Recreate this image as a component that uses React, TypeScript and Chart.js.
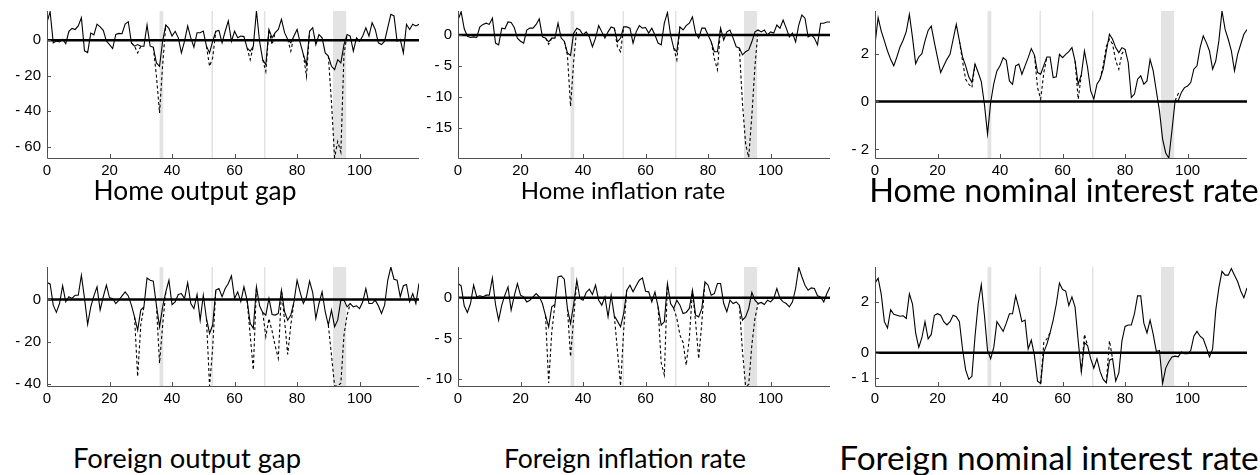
import React, { useEffect, useRef } from "react";
import { Chart, registerables } from "chart.js";

Chart.register(...registerables);

// ---------- shared axis data ----------
const X_TICKS = [0, 20, 40, 60, 80, 100];
const BANDS: [number, number][] = [
  [36, 37.2],
  [52.6, 53.1],
  [69.4, 69.9],
  [91.5, 95.7],
];

// ---------- Home output gap ----------
const homeGap = [
  10, 16, -1.5, -0.5, -1, 0.5, -2, 5, 6.6, 6,
  8, 12.7, -6, -7, 4, 3, 9, 7.5, 5.5, -0.5,
  -2.5, -4.7, 3.2, 3.8, 3.6, 9, 10.4, -1.5, -3.4, -2.5,
  -3.4, -3.4, 8.5, -3.4, -4, -12.8, -14.7, -0.5, 8.5, 6.6,
  2.3, 5, 1.3, -7.2, -0.6, 8, 1.3, -4, 4.2, 4.2,
  5.1, -3.4, -7.2, -0.6, 5, 5.5, -1.5, 5, 10.8, -0.6,
  5, 1.3, 2.3, 2, -4.3, -6.2, -3.4, 16.4, -0.6, -11,
  -13.8, 6, 1.3, 4.2, 6, 11.7, 4.2, 0.4, -1.5, 2.3,
  6, -1.5, -8, -13.8, 5, 7, -2.5, 3.2, 1.3, -7.2,
  -9, -14.7, -16.6, -11, -12.8, -2.5, 3.2, 2.3, -6.2, 1.3,
  -0.6, 2.3, 7, 2.3, 9.8, 6, -1.5, -2.5, -0.6, 7,
  14.5, 13.6, -0.6, 0.4, -7.2, 8.9, 6, 8.9, 8, 8.9,
];
const homeGapAlt: [number, number[]][] = [
  [27, [-1.5, -3.4, -7.2, -3.4]],
  [34, [-4, -20, -41, -13.8, 8.5]],
  [51, [-3.4, -14.7, -10, 5]],
  [64, [-4.3, -11, -3.4]],
  [69, [-11, -17.6, 6, -2.5, 4.2]],
  [77, [0.4, -6.2, 2.3]],
  [82, [-8, -20.4, 5]],
  [90, [-9, -35, -66, -57, -63, -8, 3.2]],
];
const homeGapTicks = [-60, -40, -20, 0];

// ---------- Home inflation rate ----------
const homeInfl = [
  2.4, 3.75, 1.0, -0.2, -0.4, -0.3, -0.4, 1.3, 1.7, 1.9,
  1.7, 2.7, -1.3, -1.6, 1.1, 1.0, 2.1, 2.0, 1.2, -0.5,
  -1.0, -1.3, 0.8, 1.1, 1.1, 1.7, 2.6, -0.3, -0.5, -1.1,
  -0.5, -0.5, 1.9, -0.5, -1.0, -2.9, -3.3, 0.3, 1.1, 0.8,
  0, 0.5, -0.3, -1.9, -0.5, 1.5, 0.5, -0.5, 0.5, 1.3,
  1.1, -1.1, -0.5, 1.3, 1.3, 1.1, -1.3, 0.5, 1.5, 1.1,
  1.2, 0.3, 1.1, 0, -1.3, -1.6, 1.9, 3.6, 0, -2.1,
  -2.7, 1.3, 0.8, 1.5, 1.9, 2.9, 0.3, -0.5, 1.1, 1.1,
  0, -1.1, -2.7, -2.7, 1.1, -0.8, 0.5, 0.8, -0.5, -1.9,
  -2.1, -3.2, -2.7, -2.4, -1.1, 0.5, 0.8, 0.5, 0.8, 0,
  0.5, 0.3, 1.6, 1.1, 2.4, 1.1, -0.3, 0.3, -1.1, 1.6,
  3.2, 2.7, -0.3, 0, -0.5, -1.6, 1.9, 1.9, 2.1, 2.1,
];
const homeInflAlt: [number, number[]][] = [
  [28, [-0.5, -1.5, -0.5]],
  [34, [-1.0, -3.2, -11.5, -4.3, 1.1]],
  [50, [1.1, -1.9, -2.7, 1.3]],
  [69, [-2.1, -4.0, 1.3]],
  [81, [-1.1, -3.8, -5.6, 1.1]],
  [90, [-2.1, -11, -17.5, -19.7, -13, -5, 0.8]],
];
const homeInflTicks = [-15, -10, -5, 0];

// ---------- Home nominal interest rate ----------
const homeRate = [
  2.39, 3.5, 2.94, 2.53, 2.11, 1.76, 1.49, 1.86, 2.28, 2.56,
  2.92, 3.64, 2.67, 1.58, 1.86, 2.0, 2.53, 2.97, 3.15, 2.46,
  1.83, 1.21, 1.49, 1.76, 1.97, 2.6, 3.22, 2.53, 1.86, 1.49,
  1.03, 0.79, 1.56, 1.21, 0.83, -0.11, -1.36, -0.04, 0.75, 1.28,
  1.49, 1.83, 1.72, 0.86, 0.72, 1.49, 1.56, 1.14, 1.49, 1.83,
  2.21, 1.94, 1.21, 1.14, 1.51, 1.86, 1.86, 1.0, 1.03, 1.97,
  1.83, 1.97, 2.08, 2.25, 1.69, 0.72, 1.11, 2.11, 1.42, 0.44,
  0.1, 0.72, 0.93, 1.35, 2.11, 2.81, 2.6, 2.25, 2.04, 2.25,
  2.18, 1.63, 0.17, 0.31, 0.93, 1.07, 0.72, 0.86, 1.76, 1.28,
  0.44, -0.39, -1.57, -2.15, -2.36, -1.2, 0.03, 0.03, 0.38, 0.58,
  0.65, 0.79, 1.35, 1.49, 2.25, 2.74, 2.46, 2.11, 1.35, 1.69,
  2.53, 3.78, 3.01, 2.6, 2.11, 1.28, 1.97, 2.39, 2.81, 3.01,
];
const homeRateAlt: [number, number[]][] = [
  [27, [2.53, 1.69, 0.93, 0.72, 0.58, 1.56]],
  [51, [1.94, 0.58, 0.1, 1.2, 1.86]],
  [64, [1.69, 0.1, 1.11]],
  [72, [0.93, 1.5, 2.3, 2.6, 2.4, 1.7, 1.35, 2.0, 2.18]],
  [96, [0.03, 0.33, 0.38]],
];
const homeRateTicks = [-2, 0, 2];

// ---------- Foreign output gap ----------
const foreignGap = [
  8.0, 7.4, -2.7, -6.1, -1.9, 6.5, -1.1, 1.3, 0.5, 2.0,
  2.0, 11.5, 0.5, -11.8, -3.5, 1.7, 6.0, -5.0, 1.3, 6.8,
  0.8, 0.5, -1.9, -0.3, 1.7, 3.6, 1.7, -2.7, -8.2, -14.5,
  -5.0, -3.5, 10.2, 9.1, 8.7, -2.7, -12.9, -3.5, 3.6, 9.1,
  -2.4, -1.1, 2.4, 2.8, 0.5, 8.0, -1.9, -4.3, 2.4, -9.8,
  2.0, -9.0, -16.1, -12.1, 4.4, 5.2, 1.3, 5.2, 7.6, 11.2,
  0.5, 3.6, -1.0, 6.0, -0.3, -11.3, -13.7, 6.0, -3.0, -6.1,
  -7.4, 0.5, -7.1, -7.4, -6.6, 4.4, -5.8, -9.8, -7.4, -1.1,
  9.1, 3.3, -1.9, 1.3, 8.7, 3.3, -9.0, -1.9, 3.6, -5.8,
  -12.1, -5.0, -12.9, -9.8, -0.3, -0.3, -3.5, -1.9, -3.5, -3.0,
  -4.3, -1.1, 5.2, -1.9, -1.9, -0.3, -3.0, -6.6, -2.7, 9.1,
  15.4, 9.6, 9.1, 1.3, 6.5, 7.1, -1.1, 2.8, -1.9, 7.6,
];
const foreignGapAlt: [number, number[]][] = [
  [28, [-8.2, -36.5, -12.1, -3.5]],
  [35, [-2.7, -30.2, -12.1, 3.6]],
  [51, [-9.0, -41, -23, 4.4]],
  [64, [-0.3, -16.9, -33.4, 6.0]],
  [69, [-6.1, -17.6, -9, -15, -22, -27.9, 4.4, -10, -26, -12, -1.1]],
  [90, [-12.1, -26.3, -41, -41, -39.7, -16.9, -7.4, -1.9]],
];
const foreignGapTicks = [-40, -20, 0];

// ---------- Foreign inflation rate ----------
const foreignInfl = [
  1.76, 1.48, -0.98, -1.8, -0.7, 1.56, 0.12, 0.25, 0.12, 0.33,
  0.33, 2.46, -0.82, -2.75, -0.9, 0.33, 1.35, -1.52, 0.25, 1.76,
  0.33, 0.12, -0.5, -0.29, 0.12, 0.53, 0.12, -0.7, -2.2, -3.57,
  -1.1, -0.82, 2.58, 2.7, 2.3, -1.3, -3.16, -0.82, 2.17, -0.08,
  -0.29, 0.66, 1.07, 0.41, 1.56, -0.29, -0.9, 0.12, -2.34, 0.33,
  -2.2, -2.87, -3.57, -1.93, 0.94, 1.56, 0.74, 1.48, 2.17, 2.46,
  0.82, 0.74, -0.5, 0.74, -1.1, -3.36, -2.95, 1.76, -0.7, -1.3,
  -0.29, -0.9, -1.93, -1.8, -1.3, 0.94, -2.13, -2.34, -1.3, 1.97,
  1.56, 0.33, 0.53, 1.76, 1.76, -0.7, -1.72, -0.29, -0.7, -0.5,
  -0.9, -2.75, -2.34, -1.3, 0.66, -0.29, -0.7, -0.57, -0.82, -0.29,
  -0.5, -0.08, 1.15, -0.08, -0.5, -0.7, -1.1, -0.5, 1.15, 3.75,
  2.6, 1.56, 0.94, 1.23, 1.15, 0.25, 0.12, -0.5, 0.53, 1.35,
];
const foreignInflAlt: [number, number[]][] = [
  [28, [-2.2, -10.5, -4.2, -0.82]],
  [35, [-1.3, -7.25, -2.5, 2.17]],
  [50, [-2.2, -6.5, -10.86, -4, 0.94]],
  [64, [-1.1, -8, -9.5, 1.76]],
  [69, [-1.3, -2.5, -4.6, -5.5, -8.3, -5, 0.94, -2.95, -7.5, -3, 1.97]],
  [90, [-0.9, -6.6, -10.86, -10.7, -5.8, -2.5, -0.7]],
];
const foreignInflTicks = [-10, -5, 0];

// ---------- Foreign nominal interest rate ----------
const foreignRate = [
  2.73, 2.92, 2.29, 1.22, 0.97, 1.69, 1.51, 1.47, 1.43, 1.45,
  1.35, 2.31, 1.91, 0.78, 0.21, 0.59, 1.22, 0.55, 0.72, 1.47,
  1.53, 1.47, 1.22, 1.09, 1.22, 1.47, 1.41, 1.22, 0.15, -0.67,
  -1.04, -0.92, 0.65, 1.91, 2.67, 1.47, 0.09, -0.23, 0.21, 1.22,
  1.03, 0.84, 1.16, 1.53, 1.53, 2.23, 1.76, 1.22, 1.28, 0.15,
  0.5, -0.1, -1.11, -1.2, 0.03, 0.34, 0.78, 1.28, 1.91, 2.73,
  2.48, 2.42, 1.85, 2.19, 1.79, 0.47, -0.75, 0.4, 0.28, -0.23,
  -0.6, -0.23, -0.73, -1.04, -1.17, -0.29, -0.23, -1.11, -0.79, 0.47,
  1.03, 1.09, 1.09, 1.53, 2.23, 2.23, 1.16, 0.78, 1.28, 0.72,
  0.05, 0.09, -1.2, -0.6, -0.35, -0.16, -0.13, -0.16, 0.03, -0.04,
  -0.04, 0.09, 0.65, 0.84, 0.65, 0.55, 0.21, -0.16, 0.15, 1.66,
  2.54, 3.19, 3.04, 3.04, 3.3, 3.04, 2.79, 2.42, 2.16, 2.54,
];
const foreignRateAlt: [number, number[]][] = [
  [53, [-1.2, 0.4, 0.55, 0.78]],
  [66, [-0.75, 0.72, 0.28]],
  [74, [-1.17, 0.47, -0.23]],
];
const foreignRateTicks = [-1, 0, 2];

// ---------- layout ----------
const Y_AXIS_W = 45;
const X_AXIS_H = 30;
const PAD_TOP = 8;
const PAD_RIGHT = 6;
const PLOT_W = 372;

type PanelCfg = {
  title: string;
  main: number[];
  alt: [number, number[]][];
  yMin: number;
  yMax: number;
  yTicks: number[];
  plotLeft: number;
  plotTop: number;
  plotH: number;
  titleX: number;
  titleY: number;
  titleSize: number;
};

const TOP_Y = 11;
const TOP_H = 147;
const BOT_Y = 267;
const BOT_H = 119;

const PANELS: PanelCfg[] = [
  { title: "Home output gap", main: homeGap, alt: homeGapAlt, yMin: -66.3, yMax: 16.4, yTicks: homeGapTicks, plotLeft: 47, plotTop: TOP_Y, plotH: TOP_H, titleX: 195, titleY: 190, titleSize: 26.3 },
  { title: "Home inflation rate", main: homeInfl, alt: homeInflAlt, yMin: -19.8, yMax: 3.86, yTicks: homeInflTicks, plotLeft: 458, plotTop: TOP_Y, plotH: TOP_H, titleX: 623, titleY: 190, titleSize: 24 },
  { title: "Home nominal interest rate", main: homeRate, alt: homeRateAlt, yMin: -2.36, yMax: 3.78, yTicks: homeRateTicks, plotLeft: 875, plotTop: TOP_Y, plotH: TOP_H, titleX: 1064, titleY: 190, titleSize: 32.5 },
  { title: "Foreign output gap", main: foreignGap, alt: foreignGapAlt, yMin: -41, yMax: 15.4, yTicks: foreignGapTicks, plotLeft: 47, plotTop: BOT_Y, plotH: BOT_H, titleX: 187, titleY: 458, titleSize: 27.4 },
  { title: "Foreign inflation rate", main: foreignInfl, alt: foreignInflAlt, yMin: -10.86, yMax: 3.8, yTicks: foreignInflTicks, plotLeft: 458, plotTop: BOT_Y, plotH: BOT_H, titleX: 625, titleY: 458, titleSize: 26.5 },
  { title: "Foreign nominal interest rate", main: foreignRate, alt: foreignRateAlt, yMin: -1.3, yMax: 3.36, yTicks: foreignRateTicks, plotLeft: 875, plotTop: BOT_Y, plotH: BOT_H, titleX: 1049, titleY: 458, titleSize: 33.3 },
];

function mainData(vals: number[]) {
  return vals.map((v, i) => ({ x: i, y: v }));
}

function altData(alt: [number, number[]][]) {
  const out: { x: number; y: number | null }[] = [];
  alt.forEach(([start, vals], k) => {
    if (k > 0) out.push({ x: start, y: null });
    vals.forEach((v, i) => out.push({ x: start + i, y: v }));
  });
  return out;
}

const fmt = (v: number) => (v < 0 ? "- " + Math.abs(v) : String(v));

const decoPlugin = {
  id: "deco",
  beforeDatasetsDraw(chart: any) {
    const { ctx, chartArea: a, scales } = chart;
    const x = scales.x;
    ctx.save();
    ctx.fillStyle = "#e3e3e3";
    BANDS.forEach(([s, e]) => {
      const x0 = x.getPixelForValue(s);
      const x1 = x.getPixelForValue(e);
      ctx.fillRect(x0, a.top, Math.max(x1 - x0, 1.5), a.bottom - a.top);
    });
    ctx.restore();
  },
  afterDatasetsDraw(chart: any) {
    const { ctx, chartArea: a, scales } = chart;
    const x = scales.x;
    const y = scales.y;
    ctx.save();
    const y0 = y.getPixelForValue(0);
    ctx.strokeStyle = "#000";
    ctx.lineWidth = 2.5;
    ctx.beginPath();
    ctx.moveTo(a.left, y0);
    ctx.lineTo(a.right, y0);
    ctx.stroke();
    ctx.strokeStyle = "#505050";
    ctx.lineWidth = 1;
    ctx.beginPath();
    ctx.moveTo(a.left + 0.5, a.top);
    ctx.lineTo(a.left + 0.5, a.bottom + 0.5);
    ctx.lineTo(a.right, a.bottom + 0.5);
    ctx.stroke();
    ctx.beginPath();
    x.ticks.forEach((t: any) => {
      const px = Math.round(x.getPixelForValue(t.value)) + 0.5;
      ctx.moveTo(px, a.bottom);
      ctx.lineTo(px, a.bottom - 4);
    });
    y.ticks.forEach((t: any) => {
      const py = Math.round(y.getPixelForValue(t.value)) + 0.5;
      ctx.moveTo(a.left, py);
      ctx.lineTo(a.left + 4, py);
    });
    ctx.stroke();
    ctx.restore();
  },
};

const TICK_FONT = { family: '"Liberation Sans", Arial, sans-serif', size: 15 };

function Panel({ cfg }: { cfg: PanelCfg }) {
  const ref = useRef<HTMLCanvasElement | null>(null);
  const width = Y_AXIS_W + PLOT_W + PAD_RIGHT;
  const height = PAD_TOP + cfg.plotH + X_AXIS_H;

  useEffect(() => {
    if (!ref.current) return;
    const chart = new Chart(ref.current, {
      type: "line",
      data: {
        datasets: [
          {
            data: mainData(cfg.main) as any,
            borderColor: "#000",
            borderWidth: 1.1,
            pointRadius: 0,
            tension: 0,
            fill: false,
          },
          {
            data: altData(cfg.alt) as any,
            borderColor: "#000",
            borderWidth: 1.1,
            borderDash: [3, 2.5],
            pointRadius: 0,
            tension: 0,
            fill: false,
            spanGaps: false,
          },
        ],
      },
      options: {
        animation: false,
        responsive: false,
        events: [],
        layout: { padding: { top: PAD_TOP, right: PAD_RIGHT, left: 0, bottom: 0 } },
        plugins: { legend: { display: false }, tooltip: { enabled: false }, title: { display: false } },
        scales: {
          x: {
            type: "linear",
            min: 0,
            max: 119,
            grid: { display: false, drawTicks: false },
            border: { display: false },
            ticks: { font: TICK_FONT, color: "#000", padding: 4, maxRotation: 0 },
            afterBuildTicks: (s: any) => {
              s.ticks = X_TICKS.map((v) => ({ value: v }));
            },
            afterFit: (s: any) => {
              s.height = X_AXIS_H;
              s.paddingLeft = 0;
              s.paddingRight = 0;
            },
          },
          y: {
            type: "linear",
            min: cfg.yMin,
            max: cfg.yMax,
            grid: { display: false, drawTicks: false },
            border: { display: false },
            ticks: {
              font: TICK_FONT,
              color: "#000",
              padding: 6,
              callback: (v: any) => fmt(Number(v)),
            },
            afterBuildTicks: (s: any) => {
              s.ticks = cfg.yTicks.map((v) => ({ value: v }));
            },
            afterFit: (s: any) => {
              s.width = Y_AXIS_W;
              s.paddingTop = 0;
              s.paddingBottom = 0;
            },
          },
        },
      } as any,
      plugins: [decoPlugin],
    });
    return () => chart.destroy();
  }, [cfg]);

  return (
    <canvas
      ref={ref}
      width={width}
      height={height}
      style={{
        position: "absolute",
        left: cfg.plotLeft - Y_AXIS_W,
        top: cfg.plotTop - PAD_TOP,
        width,
        height,
      }}
    />
  );
}

export default function App() {
  return (
    <div style={{ position: "absolute", left: 0, top: 0, width: 1260, height: 475, background: "#fff", overflow: "hidden" }}>
      {PANELS.map((p) => (
        <Panel key={p.title} cfg={p} />
      ))}
      {PANELS.map((p) => (
        <div
          key={p.title + "-t"}
          style={{
            position: "absolute",
            left: p.titleX,
            top: p.titleY,
            transform: "translate(-50%, -50%)",
            whiteSpace: "nowrap",
            fontFamily: "Lato, 'Open Sans', sans-serif",
            fontSize: p.titleSize,
            lineHeight: 1,
            color: "#000",
          }}
        >
          {p.title}
        </div>
      ))}
    </div>
  );
}
